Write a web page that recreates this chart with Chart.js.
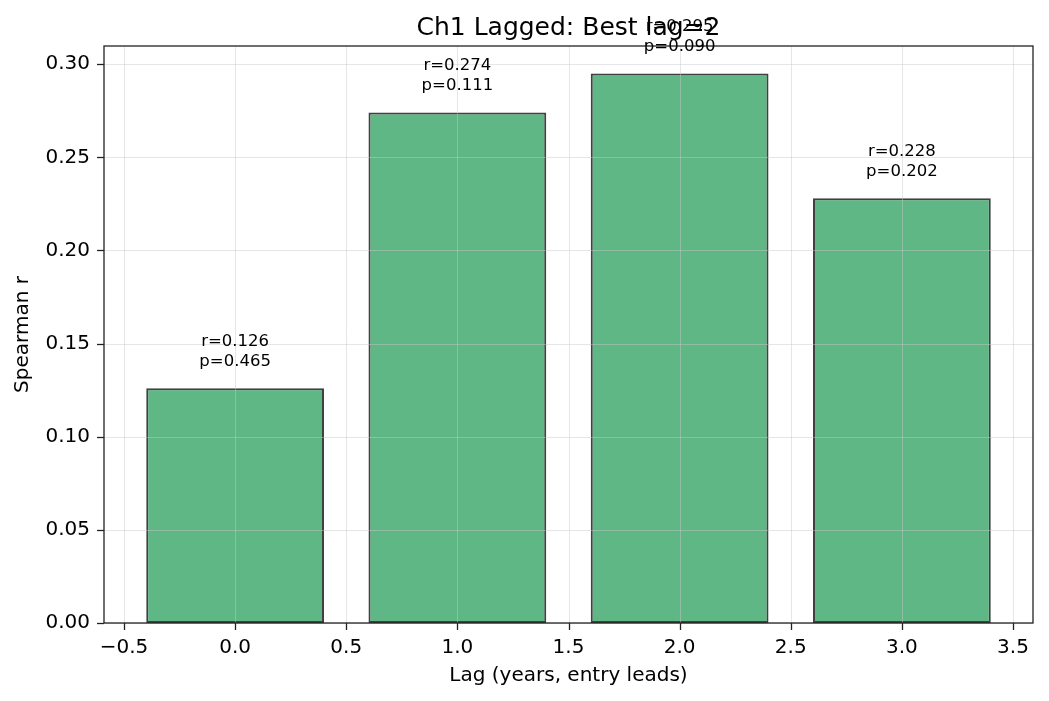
<!DOCTYPE html>
<html>
<head>
<meta charset="utf-8">
<script src="https://cdn.jsdelivr.net/npm/chart.js@4"></script>
<style>
  html, body { margin: 0; padding: 0; background: #fff; }
  #wrap { width: 1049px; height: 701px; }
</style>
</head>
<body>
<div id="wrap"><canvas id="c" width="1049" height="701"></canvas></div>
<script>
// ---- data ----
const lags = [0, 1, 2, 3];
const rVals = [0.126, 0.274, 0.295, 0.228];
const pVals = [0.465, 0.111, 0.090, 0.202];
const xTicks = [-0.5, 0, 0.5, 1, 1.5, 2, 2.5, 3, 3.5];
const yTicks = [0, 0.05, 0.10, 0.15, 0.20, 0.25, 0.30];

const FONT = "'DejaVu Sans', sans-serif";

// grid over bars, frame, tick marks, bar labels and title (matplotlib look)
const extras = {
  id: 'extras',
  afterDatasetsDraw(chart) {
    const { ctx, chartArea: a, scales } = chart;
    ctx.save();
    ctx.strokeStyle = 'rgba(200,200,200,0.45)';
    ctx.lineWidth = 1;
    xTicks.forEach(t => {
      const px = Math.round(scales.x.getPixelForValue(t)) + 0.5;
      ctx.beginPath(); ctx.moveTo(px, a.top); ctx.lineTo(px, a.bottom); ctx.stroke();
    });
    yTicks.forEach(t => {
      const py = Math.round(scales.y.getPixelForValue(t)) + 0.5;
      ctx.beginPath(); ctx.moveTo(a.left, py); ctx.lineTo(a.right, py); ctx.stroke();
    });
    // box + ticks
    ctx.strokeStyle = '#222';
    ctx.lineWidth = 1.3;
    ctx.strokeRect(a.left, a.top, a.right - a.left, a.bottom - a.top);
    xTicks.forEach(t => {
      const px = Math.round(scales.x.getPixelForValue(t)) + 0.5;
      ctx.beginPath(); ctx.moveTo(px, a.bottom); ctx.lineTo(px, a.bottom + 7); ctx.stroke();
    });
    yTicks.forEach(t => {
      const py = Math.round(scales.y.getPixelForValue(t)) + 0.5;
      ctx.beginPath(); ctx.moveTo(a.left - 7, py); ctx.lineTo(a.left, py); ctx.stroke();
    });
    // labels
    ctx.fillStyle = '#000';
    ctx.font = '16.5px ' + FONT;
    ctx.textAlign = 'center';
    ctx.textBaseline = 'alphabetic';
    lags.forEach((lag, i) => {
      const px = scales.x.getPixelForValue(lag);
      const py = scales.y.getPixelForValue(rVals[i] + 0.01);
      ctx.fillText('p=' + pVals[i].toFixed(3), px, py - 4);
      ctx.fillText('r=' + rVals[i].toFixed(3), px, py - 24);
    });
    // title
    ctx.font = '25px ' + FONT;
    ctx.textBaseline = 'middle';
    ctx.fillText('Ch1 Lagged: Best lag=2', (a.left + a.right) / 2, 28);
    ctx.restore();
  }
};

new Chart(document.getElementById('c'), {
  type: 'bar',
  data: {
    datasets: [{
      data: lags.map((x, i) => ({ x, y: rVals[i] })),
      backgroundColor: 'rgba(67,170,113,0.85)',
      borderColor: 'rgba(30,30,30,0.85)',
      borderWidth: 2,
      borderSkipped: false,
      categoryPercentage: 1.6,
      barPercentage: 1.0
    }]
  },
  plugins: [extras],
  options: {
    responsive: false,
    animation: false,
    layout: { padding: { top: 46, right: 16, left: 0, bottom: 0 } },
    plugins: { legend: { display: false }, tooltip: { enabled: false }, title: { display: false } },
    scales: {
      x: {
        type: 'linear',
        min: -0.59, max: 3.59,
        offset: false,
        afterFit: s => { s.height = 78; },
        afterBuildTicks: s => { s.ticks = xTicks.map(v => ({ value: v })); },
        ticks: {
          includeBounds: false,
          color: '#000',
          font: { family: FONT, size: 20 },
          padding: 5,
          maxRotation: 0,
          autoSkip: false,
          callback: v => v.toFixed(1).replace('-', '\u2212')
        },
        grid: { display: false, offset: false },
        border: { display: false },
        title: { display: true, text: 'Lag (years, entry leads)', color: '#000', font: { family: FONT, size: 20 }, padding: { top: 0, bottom: 13 } }
      },
      y: {
        min: 0, max: 0.30975,
        afterFit: s => { s.width = 104; },
        afterBuildTicks: s => { s.ticks = yTicks.map(v => ({ value: v })); },
        ticks: {
          includeBounds: false,
          color: '#000',
          font: { family: FONT, size: 20 },
          padding: 6,
          autoSkip: false,
          callback: v => v.toFixed(2)
        },
        grid: { display: false },
        border: { display: false },
        title: { display: true, text: 'Spearman r', color: '#000', font: { family: FONT, size: 20 }, padding: { top: 11, bottom: 0 } }
      }
    }
  }
});
</script>
</body>
</html>
